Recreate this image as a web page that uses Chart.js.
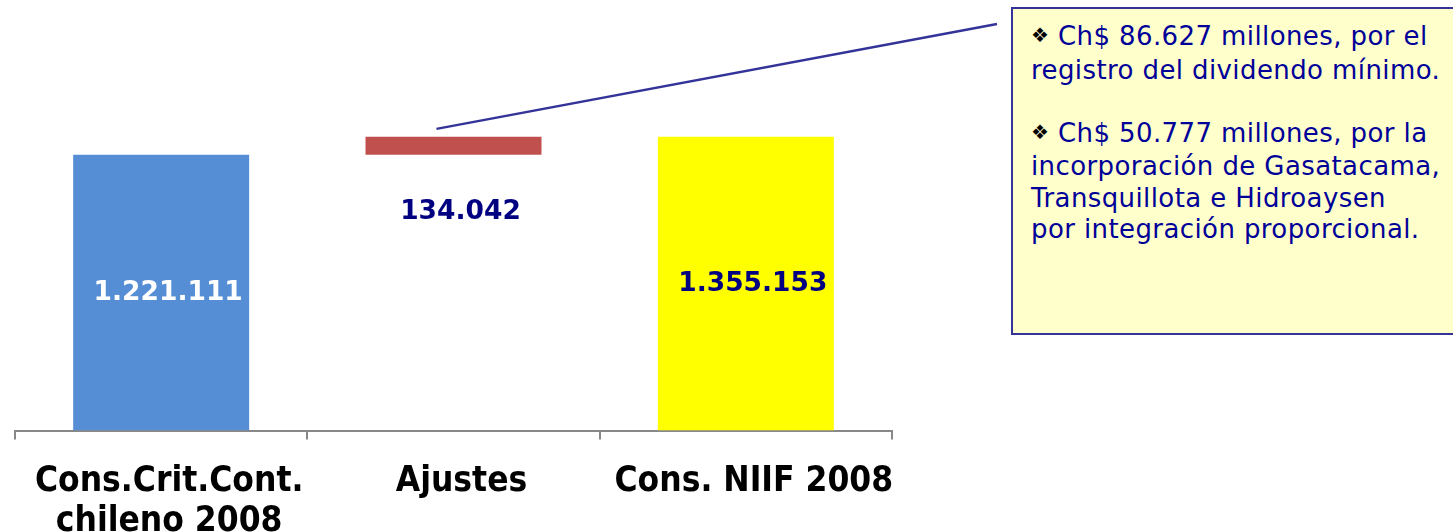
<!DOCTYPE html>
<html lang="es">
<head>
<meta charset="UTF-8">
<title>Cons. NIIF 2008</title>
<script src="https://cdn.jsdelivr.net/npm/chart.js"></script>
<style>
  body { margin: 0; background: #fff; }
  .wrap { position: relative; width: 1453px; height: 532px; overflow: hidden; }
  #chart { position: absolute; left: 0; top: 0; }
  .nota {
    position: absolute; left: 1011px; top: 7px; width: 470px; height: 328px;
    background: #ffffcc; border: 2.5px solid #333399;
    padding: 12px 0 0 18px; box-sizing: border-box;
    font-family: "DejaVu Sans", Verdana, sans-serif; font-size: 26px;
    line-height: 31.5px; color: #000099; letter-spacing: 0.4px;
  }
  .nota p { margin: 0 0 31.5px 0; }
  .bul { color: #000; font-size: 20px; position: relative; top: -3px; }
</style>
</head>
<body>
<div class="wrap">
  <canvas id="chart" width="1453" height="532"></canvas>
  <div class="nota">
    <p><span class="bul">❖</span> Ch$ 86.627 millones, por el<br>registro del dividendo mínimo.</p>
    <p><span class="bul">❖</span> Ch$ 50.777 millones, por la<br>incorporación de Gasatacama,<br>Transquillota e Hidroaysen<br>por integración proporcional.</p>
  </div>
</div>
<script>
// data
const categorias = [['Cons.Crit.Cont.', 'chileno 2008'], 'Ajustes', 'Cons. NIIF 2008'];
const consChileno = 1221111;
const ajustes = 134042;
const consNiif = 1355153;
const etiquetas = ['1.221.111', '134.042', '1.355.153'];

const Y_MIN = -834265;
const Y_MAX = 2226452;

const colores = ['#558ed5', '#c0504d', '#ffff00'];
const colorEtiq = ['#ffffff', '#000080', '#000080'];

const barras = [consChileno, [consChileno, consChileno + ajustes], consNiif];

const etiquetasPlugin = {
  id: 'etiquetas',
  afterDatasetsDraw(chart) {
    const ctx = chart.ctx;
    const meta = chart.getDatasetMeta(0);
    ctx.save();
    // connector from the Ajustes bar to the note
    const b = meta.data[1];
    ctx.strokeStyle = '#333399';
    ctx.lineWidth = 2.5;
    ctx.beginPath();
    ctx.moveTo(b.x - 17, b.y - 8);
    ctx.lineTo(997, 24);
    ctx.stroke();

    ctx.font = 'bold 26.5px "DejaVu Sans", Verdana, sans-serif';
    ctx.textAlign = 'center';
    ctx.textBaseline = 'middle';
    meta.data.forEach((bar, i) => {
      ctx.fillStyle = colorEtiq[i];
      let y = (bar.y + bar.base) / 2;
      if (i === 1) y = bar.base + 57;
      ctx.fillText(etiquetas[i], bar.x + 7, y);
    });
    ctx.restore();
  }
};

new Chart(document.getElementById('chart'), {
  type: 'bar',
  data: {
    labels: categorias,
    datasets: [{
      data: barras,
      backgroundColor: colores,
      base: Y_MIN,
      categoryPercentage: 1,
      barPercentage: 0.602
    }]
  },
  options: {
    responsive: false,
    animation: false,
    layout: { padding: { left: 15, right: 561, top: 20, bottom: -32 } },
    plugins: { legend: { display: false }, tooltip: { enabled: false } },
    scales: {
      x: {
        offset: true,
        grid: { drawOnChartArea: false, drawTicks: true, tickLength: 9, color: '#888', lineWidth: 2, offset: true },
        border: { color: '#888', width: 2 },
        ticks: {
          color: '#000',
          padding: 22,
          labelOffset: 8,
          maxRotation: 0,
          autoSkip: false,
          font: { family: '"DejaVu Sans Condensed", "DejaVu Sans", sans-serif', size: 35, weight: 'bold', lineHeight: 1.15 }
        }
      },
      y: { display: false, min: Y_MIN, max: Y_MAX }
    }
  },
  plugins: [etiquetasPlugin]
});
</script>
</body>
</html>
